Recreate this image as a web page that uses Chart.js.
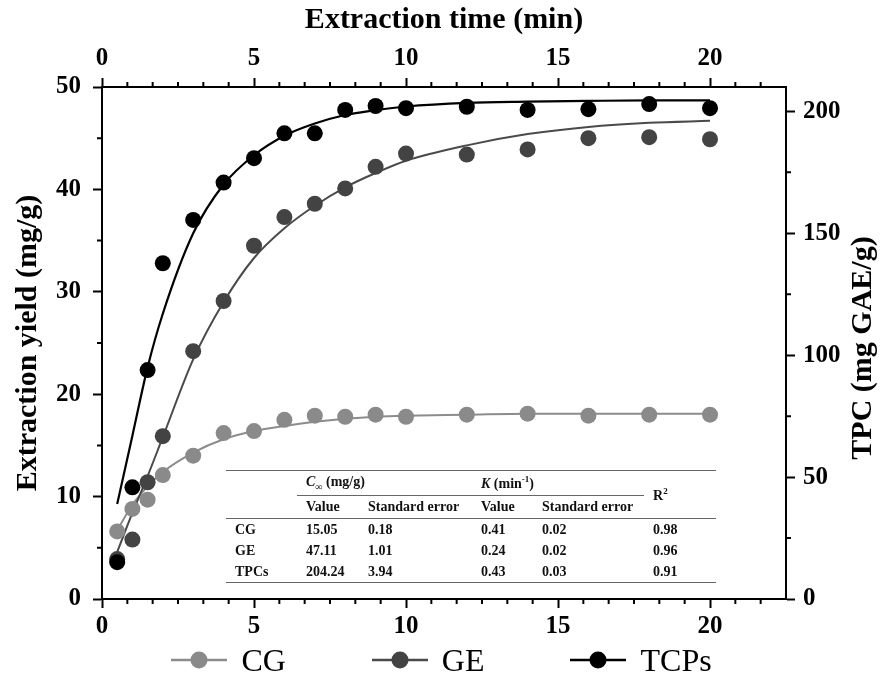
<!DOCTYPE html>
<html>
<head>
<meta charset="utf-8">
<script src="https://cdn.jsdelivr.net/npm/chart.js@4.4.0/dist/chart.umd.min.js"></script>
<style>
  html, body { margin: 0; padding: 0; background: #fff; }
  #wrap { position: relative; width: 883px; height: 696px; }
  #fit {
    position: absolute; left: 226px; top: 470px;
    border-collapse: collapse; table-layout: fixed;
    font: bold 14px "Liberation Serif", "Times New Roman", serif; color: #111;
  }
  #fit td { padding: 0 0 0 9px; white-space: nowrap; line-height: 1; }
  #fit tr.h1 td { height: 24px; border-top: 1.5px solid #666; }
  #fit tr.h2 td { height: 22px; }
  #fit td.grp { border-bottom: 1.5px solid #666; font-weight: bold; }
  #fit td.sep, #fit tr.h2 td { border-bottom: 1.5px solid #666; }
  #fit tbody tr.row td { height: 21px; }
  #fit tbody tr.last td { border-bottom: 1.5px solid #666; }
  #fit sub { font-size: 10px; }
  #fit sup { font-size: 9px; }
  #legend {
    position: absolute; left: 0; top: 640px; width: 883px; height: 40px;
    display: flex; justify-content: center; align-items: center; gap: 86px;
    font: 32px "Liberation Serif", "Times New Roman", serif; color: #000;
  }
  #legend .item { display: flex; align-items: center; }
  #legend svg { margin-right: 14px; }
</style>
</head>
<body>
<div id="wrap">
  <canvas id="kinetics" width="883" height="696"></canvas>
  <table id="fit">
    <colgroup>
      <col style="width:71px"><col style="width:62px"><col style="width:113px">
      <col style="width:61px"><col style="width:111px"><col style="width:72px">
    </colgroup>
    <tr class="h1">
      <td rowspan="2" class="sep"></td>
      <td colspan="2" class="grp"><i>C</i><sub>&infin;</sub> (mg/g)</td>
      <td colspan="2" class="grp"><i>K</i> (min<sup>-1</sup>)</td>
      <td rowspan="2" class="sep">R<sup>2</sup></td>
    </tr>
    <tr class="h2">
      <td>Value</td><td>Standard error</td><td>Value</td><td>Standard error</td>
    </tr>
    <tbody id="fitBody"></tbody>
  </table>
  <div id="legend"></div>
</div>
<script>
// sampling times (min)
const times = [0.5, 1, 1.5, 2, 3, 4, 5, 6, 7, 8, 9, 10, 12, 14, 16, 18, 20];

// measured points
const cgYield = [6.6, 8.8, 9.7, 12.1, 14.0, 16.2, 16.4, 17.5, 17.9, 17.8, 18.0, 17.8, 18.0, 18.1, 17.9, 18.0, 18.0];
const geYield = [3.9, 5.8, 11.4, 15.9, 24.2, 29.1, 34.5, 37.3, 38.6, 40.1, 42.2, 43.5, 43.4, 43.9, 45.0, 45.1, 44.9];
const tpcValue = [15.1, 45.8, 93.9, 137.7, 155.5, 170.8, 180.8, 191.0, 191.0, 200.6, 202.2, 201.3, 201.9, 200.6, 200.9, 203.0, 201.3];

// fitted kinetic curves
const cgFit = [6.7, 9.2, 11.0, 12.4, 14.3, 15.6, 16.4, 16.9, 17.3, 17.6, 17.8, 17.9, 18.0, 18.1, 18.1, 18.1, 18.1];
const geFit = [4.6, 8.4, 12.0, 15.8, 23.4, 29.0, 33.3, 36.2, 38.4, 40.2, 41.6, 42.8, 44.3, 45.4, 46.1, 46.5, 46.7];
const tpcFit = [39, 67, 95, 117, 150, 170, 182, 190, 195, 198.5, 200.5, 202, 203.5, 204, 204.3, 204.5, 204.5];

const xTicks = [0, 5, 10, 15, 20];
const yTicks = [0, 10, 20, 30, 40, 50];
const y2Ticks = [0, 50, 100, 150, 200];

const legendNames = ['CG', 'GE', 'TCPs'];
const tableRows = [
  ['CG', '15.05', '0.18', '0.41', '0.02', '0.98'],
  ['GE', '47.11', '1.01', '0.24', '0.02', '0.96'],
  ['TPCs', '204.24', '3.94', '0.43', '0.03', '0.91']
];

const pointColors = ['#8a8a8a', '#434343', '#000000'];
const lineColors = ['#8c8c8c', '#4a4a4a', '#000000'];
const serif = '"Liberation Serif", "Times New Roman", serif';

const pts = (ys) => times.map((t, i) => ({x: t, y: ys[i]}));

const minorTicks = {
  id: 'minorTicks',
  afterDraw(chart) {
    const {ctx, scales} = chart;
    const {x, x2, y, y2} = scales;
    ctx.save();
    ctx.strokeStyle = '#000';
    ctx.lineWidth = 2;
    ctx.beginPath();
    for (let i = 1; i < 27; i++) {
      if (i % 6 === 0) continue;
      const px = x.getPixelForValue(i * 5 / 6);
      ctx.moveTo(px, x.top); ctx.lineTo(px, x.top + 5);
      ctx.moveTo(px, x2.bottom); ctx.lineTo(px, x2.bottom - 5);
    }
    for (let v = 5; v < 50; v += 10) {
      const py = y.getPixelForValue(v);
      ctx.moveTo(y.right, py); ctx.lineTo(y.right - 5, py);
    }
    for (let v = 25; v < 210; v += 50) {
      const py = y2.getPixelForValue(v);
      ctx.moveTo(y2.left, py); ctx.lineTo(y2.left + 5, py);
    }
    ctx.stroke();
    ctx.restore();
  }
};

// right title reads bottom-to-top like the left one
const rightTitle = {
  id: 'rightTitle',
  afterDraw(chart) {
    const {ctx, chartArea} = chart;
    ctx.save();
    ctx.translate(chart.scales.y2.right - 20, (chartArea.top + chartArea.bottom) / 2 + 5);
    ctx.rotate(-Math.PI / 2);
    ctx.font = 'bold 30px ' + serif;
    ctx.fillStyle = '#000';
    ctx.textAlign = 'center';
    ctx.textBaseline = 'middle';
    ctx.fillText('TPC (mg GAE/g)', 0, 0);
    ctx.restore();
  }
};

function axis(position, min, max, ticks, size, extra) {
  return Object.assign({
    type: 'linear',
    position: position,
    min: min,
    max: max,
    afterBuildTicks: (s) => { s.ticks = ticks.map(v => ({value: v})); },
    afterFit: (s) => {
      if (position === 'top' || position === 'bottom') s.height = size; else s.width = size;
    },
    border: {display: true, color: '#000', width: 2},
    grid: {display: true, drawOnChartArea: false, drawTicks: true, tickLength: 9, tickWidth: 2, tickColor: '#000'},
    ticks: {
      autoSkip: false, maxRotation: 0, color: '#000', padding: 4,
      font: {family: serif, size: 25, weight: 'bold'}
    }
  }, extra || {});
}

const scales = {
  x: axis('bottom', 0, 22.5, xTicks, 97),
  x2: axis('top', 0, 22.5, xTicks, 87, {
    title: {display: true, text: 'Extraction time (min)', color: '#000',
            font: {family: serif, size: 30, weight: 'bold'}, padding: {top: 2, bottom: 0}}
  }),
  y: axis('left', 0, 50, yTicks, 102, {
    title: {display: true, text: 'Extraction yield (mg/g)', color: '#000',
            font: {family: serif, size: 30, weight: 'bold'}, padding: {top: 10, bottom: 0}}
  }),
  y2: axis('right', 0, 210, y2Ticks, 97)
};
scales.y.ticks.padding = 12;
scales.y2.ticks.padding = 8;

new Chart(document.getElementById('kinetics'), {
  type: 'scatter',
  data: {
    datasets: [
      {label: 'TCPs', data: pts(tpcValue), yAxisID: 'y2', order: 0,
       pointRadius: 8, pointBackgroundColor: pointColors[2], pointBorderWidth: 0},
      {label: 'CG', data: pts(cgYield), yAxisID: 'y', order: 1,
       pointRadius: 8, pointBackgroundColor: pointColors[0], pointBorderWidth: 0},
      {label: 'GE', data: pts(geYield), yAxisID: 'y', order: 2,
       pointRadius: 8, pointBackgroundColor: pointColors[1], pointBorderWidth: 0},
      {label: 'TCPs fit', data: pts(tpcFit), yAxisID: 'y2', order: 3, showLine: true,
       pointRadius: 0, borderColor: lineColors[2], borderWidth: 2.2, tension: 0.4, cubicInterpolationMode: 'monotone'},
      {label: 'GE fit', data: pts(geFit), yAxisID: 'y', order: 4, showLine: true,
       pointRadius: 0, borderColor: lineColors[1], borderWidth: 2, tension: 0.4, cubicInterpolationMode: 'monotone'},
      {label: 'CG fit', data: pts(cgFit), yAxisID: 'y', order: 5, showLine: true,
       pointRadius: 0, borderColor: lineColors[0], borderWidth: 2, tension: 0.4, cubicInterpolationMode: 'monotone'}
    ]
  },
  options: {
    responsive: false,
    animation: false,
    layout: {padding: 0},
    plugins: {legend: {display: false}, tooltip: {enabled: false}},
    scales: scales
  },
  plugins: [minorTicks, rightTitle]
});

// parameter table
const body = document.getElementById('fitBody');
tableRows.forEach((r, i) => {
  const tr = document.createElement('tr');
  tr.className = 'row' + (i === tableRows.length - 1 ? ' last' : '');
  r.forEach(c => {
    const td = document.createElement('td');
    td.textContent = c;
    tr.appendChild(td);
  });
  body.appendChild(tr);
});

// legend: line through a dot
const legend = document.getElementById('legend');
legendNames.forEach((name, i) => {
  const item = document.createElement('div');
  item.className = 'item';
  item.innerHTML = '<svg width="56" height="20"><line x1="0" y1="10" x2="56" y2="10" stroke="' + lineColors[i] +
    '" stroke-width="2.5"/><circle cx="28" cy="10" r="8.5" fill="' + pointColors[i] + '"/></svg><span>' + name + '</span>';
  legend.appendChild(item);
});
</script>
</body>
</html>
